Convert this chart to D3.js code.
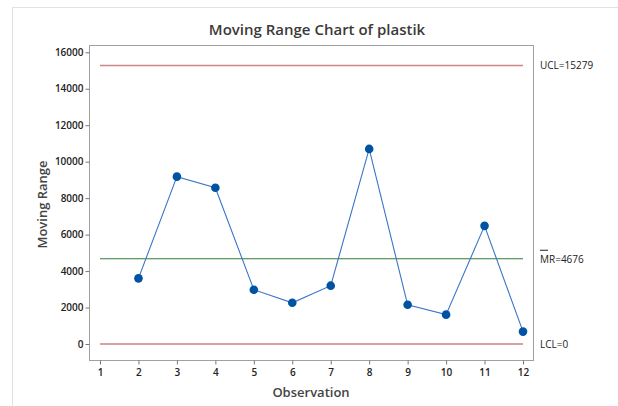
<!DOCTYPE html>
<html>
<head>
<meta charset="utf-8">
<script src="https://cdn.jsdelivr.net/npm/d3@7"></script>
<style>
  html, body { margin: 0; padding: 0; background: #fff; }
  svg { display: block; font-family: "Open Sans", "Noto Sans", sans-serif; }
</style>
</head>
<body>
<svg id="chart" width="618" height="406"></svg>
<script>
// Moving ranges of "plastik" per observation (first observation has no range)
const observations = [2, 3, 4, 5, 6, 7, 8, 9, 10, 11, 12];
const movingRange = [3600, 9180, 8570, 2980, 2260, 3200, 10700, 2150, 1610, 6480, 680];
const xTicks = [1, 2, 3, 4, 5, 6, 7, 8, 9, 10, 11, 12];
const yTicks = [0, 2000, 4000, 6000, 8000, 10000, 12000, 14000, 16000];
const ucl = 15279;
const centerMR = 4676;
const lcl = 0;

const svg = d3.select("#chart");
const W = 618, H = 406;

// outer panel border
svg.append("line").attr("x1", 12).attr("x2", W).attr("y1", 7.5).attr("y2", 7.5)
  .attr("stroke", "#e2e2e2");
svg.append("line").attr("x1", 12.5).attr("x2", 12.5).attr("y1", 7).attr("y2", H)
  .attr("stroke", "#e2e2e2");

const plot = { left: 89, right: 533, top: 45, bottom: 360 };

const x = d3.scaleLinear().domain([0.714, 12.26]).range([plot.left, plot.right]);
const y = d3.scaleLinear().domain([-877, 16400]).range([plot.bottom, plot.top]);

// frame
svg.append("rect")
  .attr("x", plot.left + 0.5).attr("y", plot.top + 0.5)
  .attr("width", plot.right - plot.left).attr("height", plot.bottom - plot.top)
  .attr("fill", "none").attr("stroke", "#a0a0a0");

// axes
const yAxis = svg.append("g")
  .attr("transform", `translate(${plot.left + 0.5},0)`)
  .call(d3.axisLeft(y).tickValues(yTicks).tickSize(4).tickPadding(2).tickFormat(d3.format("d")));
const xAxis = svg.append("g")
  .attr("transform", `translate(0,${plot.bottom + 0.5})`)
  .call(d3.axisBottom(x).tickValues(xTicks).tickSize(4).tickPadding(4).tickFormat(d3.format("d")));
[yAxis, xAxis].forEach(g => {
  g.select(".domain").remove();
  g.selectAll(".tick line").attr("stroke", "#777");
  g.selectAll(".tick text").attr("fill", "#222").attr("font-size", 10)
    .attr("font-weight", 600).attr("font-family", "'Open Sans', sans-serif");
});

// control limits and center line
const limits = [
  { v: ucl, color: "#cd8585", w: 1.6, label: "UCL=" + ucl },
  { v: centerMR, color: "#2f7d35", w: 1, label: "MR=" + centerMR, bar: true },
  { v: lcl, color: "#cd8585", w: 1.6, label: "LCL=" + lcl }
];
limits.forEach(l => {
  svg.append("line")
    .attr("x1", x(1)).attr("x2", x(12))
    .attr("y1", y(l.v)).attr("y2", y(l.v))
    .attr("stroke", l.color).attr("stroke-width", l.w);
  svg.append("text")
    .attr("x", plot.right + 7).attr("y", y(l.v) + 4)
    .attr("font-size", 10).attr("fill", "#222")
    .text(l.label);
  if (l.bar) {
    // bar over "MR"
    svg.append("line")
      .attr("x1", plot.right + 7).attr("x2", plot.right + 15)
      .attr("y1", y(l.v) - 8.5).attr("y2", y(l.v) - 8.5)
      .attr("stroke", "#222").attr("stroke-width", 1);
  }
});

// moving range series
const pts = observations.map((o, i) => ({ o, v: movingRange[i] }));
svg.append("path")
  .datum(pts)
  .attr("fill", "none")
  .attr("stroke", "#3a75c4")
  .attr("stroke-width", 1.1)
  .attr("d", d3.line().x(d => x(d.o)).y(d => y(d.v)));
svg.selectAll("circle.pt").data(pts).join("circle")
  .attr("class", "pt")
  .attr("cx", d => x(d.o)).attr("cy", d => y(d.v))
  .attr("r", 4.3).attr("fill", "#0052a3");

// titles
svg.append("text")
  .attr("x", 317).attr("y", 35).attr("text-anchor", "middle")
  .attr("font-size", 15).attr("font-weight", 600).attr("fill", "#3a3a3a")
  .text("Moving Range Chart of plastik");
svg.append("text")
  .attr("x", 311).attr("y", 397).attr("text-anchor", "middle")
  .attr("font-size", 13).attr("font-weight", 600).attr("fill", "#444")
  .text("Observation");
svg.append("text")
  .attr("transform", `translate(47,${(plot.top + plot.bottom) / 2 + 2}) rotate(-90)`)
  .attr("text-anchor", "middle")
  .attr("font-size", 13).attr("font-weight", 600).attr("fill", "#444")
  .text("Moving Range");
</script>
</body>
</html>
